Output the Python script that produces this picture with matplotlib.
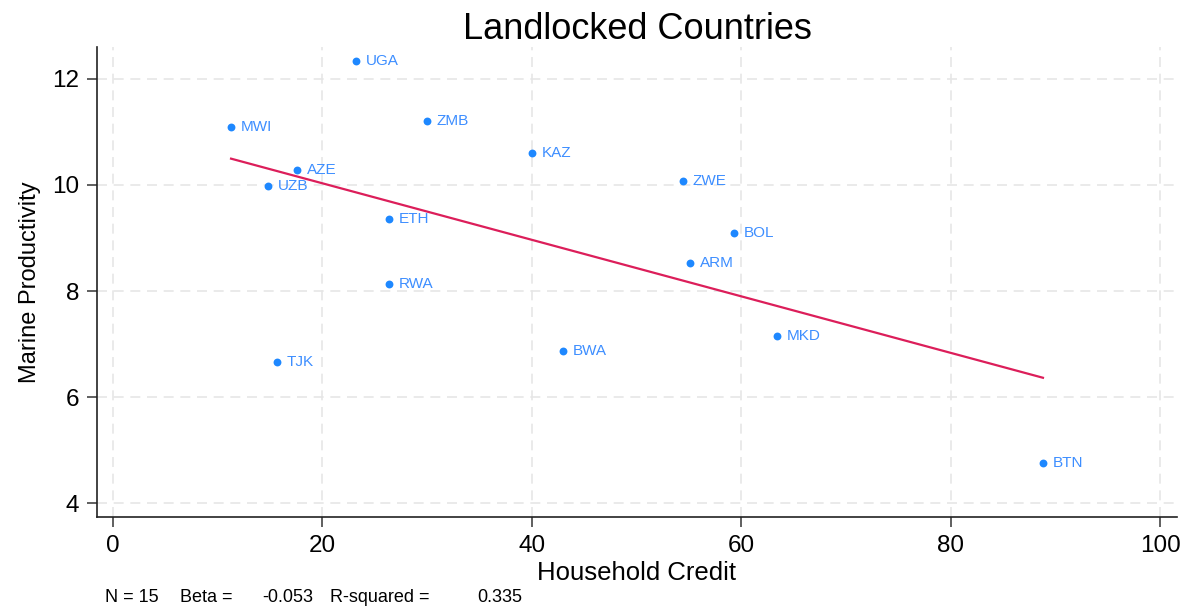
import numpy as np
import matplotlib
matplotlib.use('Agg')
import matplotlib.pyplot as plt

plt.rcParams['font.family'] = ['Liberation Sans', 'DejaVu Sans']

countries = ['UGA', 'MWI', 'ZMB', 'KAZ', 'AZE', 'UZB', 'ZWE', 'ETH',
             'BOL', 'ARM', 'RWA', 'MKD', 'BWA', 'TJK', 'BTN']
household_credit = [23.2, 11.3, 30.0, 40.0, 17.6, 14.8, 54.4, 26.4,
                    59.3, 55.1, 26.4, 63.4, 43.0, 15.7, 88.8]
marine_prod = [12.34, 11.09, 11.21, 10.60, 10.28, 9.98, 10.08, 9.36,
               9.09, 8.53, 8.13, 7.15, 6.87, 6.66, 4.75]
x_ticks = [0, 20, 40, 60, 80, 100]
y_ticks = [4, 6, 8, 10, 12]
# footnote pieces and their left edges (figure pixels)
note_parts = ['N = 15', 'Beta =', '-0.053', 'R-squared =', '0.335']
note_x = [105, 180, 262, 330, 477]

x = np.array(household_credit)
y = np.array(marine_prod)
slope, intercept = np.polyfit(x, y, 1)

W, H = 1194, 613
fig = plt.figure(figsize=(W / 100, H / 100), dpi=100)
ax = fig.add_axes([0.0812, 0.1566, 0.9046, 0.7667])

ax.scatter(x, y, s=32, color='#1e88ff', zorder=3, linewidths=0)
for name, xi, yi in zip(countries, x, y):
    ax.annotate(name, (xi, yi), xytext=(7, 0), textcoords='offset points',
                va='center', ha='left', fontsize=11, color='#3d8eff')

xs = np.array([x.min(), x.max()])
ax.plot(xs, intercept + slope * xs, color='#dc1e5a', linewidth=1.6, zorder=2)

ax.set_xlim(-1.5, 101.6)
ax.set_ylim(3.74, 12.6)
ax.set_xticks(x_ticks)
ax.set_yticks(y_ticks)
ax.grid(True, color='#e6e6e6', linestyle=(0, (6, 4)), linewidth=1.2)
ax.set_axisbelow(True)
for s in ['top', 'right']:
    ax.spines[s].set_visible(False)
for s in ['left', 'bottom']:
    ax.spines[s].set_linewidth(1.2)
    ax.spines[s].set_color('#222222')
ax.tick_params(direction='out', length=7, width=1.2, color='#444444',
               labelsize=17.5, pad=6)

ax.set_xlabel('Household Credit', fontsize=18.5, labelpad=3)
ax.set_ylabel('Marine Productivity', fontsize=17, labelpad=8)
ax.set_title('Landlocked Countries', fontsize=26, pad=5)

for txt, px in zip(note_parts, note_x):
    fig.text(px / W, 0.012, txt, fontsize=13, ha='left', va='bottom')

fig.savefig('out.png', dpi=100)
